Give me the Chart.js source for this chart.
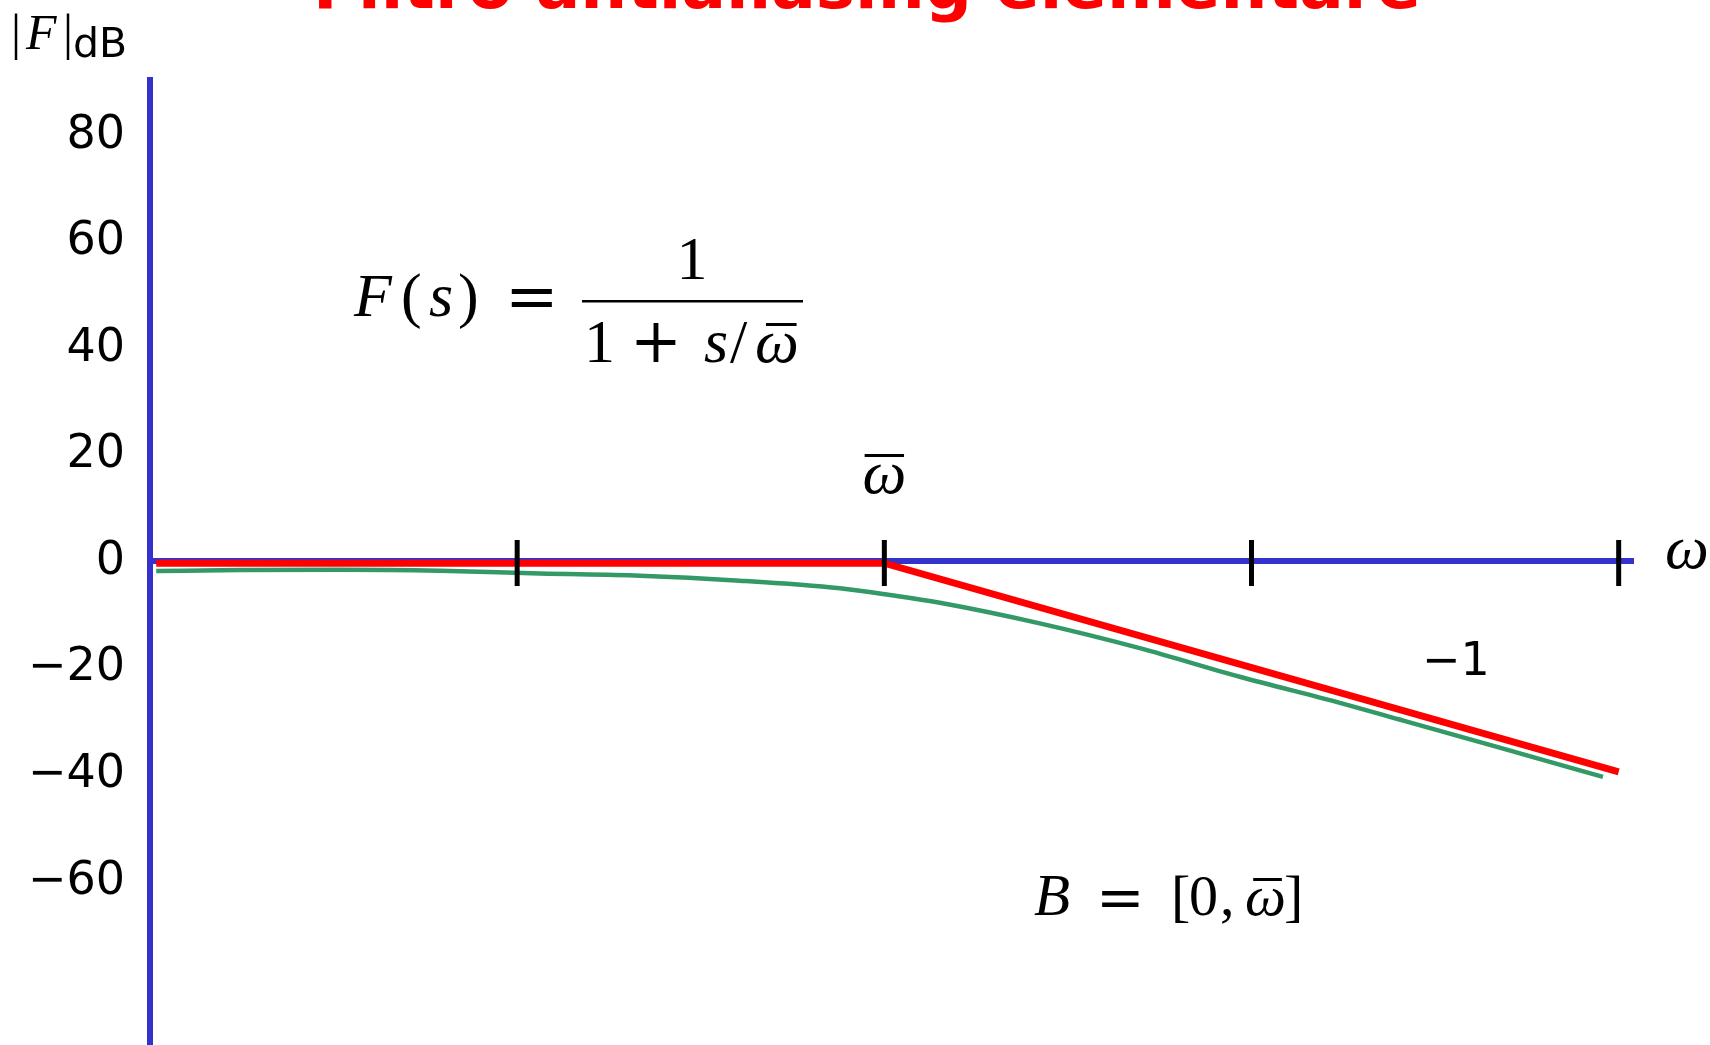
<!DOCTYPE html>
<html>
<head>
<meta charset="utf-8">
<title>Filtro antialiasing elementare</title>
<script src="https://cdn.jsdelivr.net/npm/chart.js@4.4.1/dist/chart.umd.min.js"></script>
<style>
  html, body { margin: 0; padding: 0; background: #ffffff; }
  canvas { display: block; }
</style>
</head>
<body>
<canvas id="bode" width="1710" height="1045"></canvas>
<script>
// frequency as w / w_bar on a log axis, magnitude in dB
const asymptoteOmega = [0.0104, 1, 100];
const asymptoteDb = [-0.4, -0.4, -39.6];

const exactOmega = [0.0104, 0.0176, 0.0329, 0.0617, 0.1153, 0.216, 0.404, 0.757, 1.035,
                    1.416, 2.65, 4.96, 9.29, 17.4, 25.3, 47.4, 90.6];
const exactDb = [-1.88, -1.69, -1.63, -1.82, -2.35, -2.76, -3.70, -5.13, -6.38,
                 -7.83, -11.70, -16.35, -21.73, -26.62, -29.76, -35.04, -40.52];

const dbTicks = [80, 60, 40, 20, 0, -20, -40, -60];
const decadeTicks = [0.1, 1, 10, 100];

const BLUE = '#3333cc';
const SERIF = '"Liberation Serif", serif';
const SANS = '"DejaVu Sans", sans-serif';

function toPoints(xs, ys) {
    return xs.map((v, i) => ({ x: v, y: ys[i] }));
}

function put(ctx, str, x, y, font, align) {
    ctx.font = font;
    ctx.textAlign = align || 'left';
    ctx.fillText(str, x, y);
}

// omega with a bar over it
function omegaBar(ctx, x, y, font, align, barFrom, barTo) {
    ctx.font = font;
    ctx.textAlign = align || 'left';
    const m = ctx.measureText('\u03c9');
    ctx.fillText('\u03c9', x, y);
    const left = ctx.textAlign === 'center' ? x - m.width / 2 : x;
    const top = y - m.actualBoundingBoxAscent;
    ctx.fillRect(left + m.width * barFrom, top - 10, m.width * (barTo - barFrom), 3);
}

// black decade marks crossing the frequency axis
const decadeMarks = {
    id: 'decadeMarks',
    afterDatasetsDraw(chart) {
        const { ctx, scales: { x, y } } = chart;
        const y0 = y.getPixelForValue(0);
        ctx.save();
        ctx.strokeStyle = '#000000';
        ctx.lineWidth = 5;
        decadeTicks.forEach(v => {
            const px = x.getPixelForValue(v);
            ctx.beginPath();
            ctx.moveTo(px, y0 - 21);
            ctx.lineTo(px, y0 + 25);
            ctx.stroke();
        });
        ctx.restore();
    }
};

const labels = {
    id: 'labels',
    afterDraw(chart) {
        const { ctx, scales: { x, y } } = chart;
        const y0 = y.getPixelForValue(0);
        ctx.save();
        ctx.textBaseline = 'alphabetic';

        // title
        ctx.fillStyle = '#ff0000';
        put(ctx, 'Filtro antialiasing elementare', 867, 8, `bold 66px ${SANS}`, 'center');

        ctx.fillStyle = '#000000';
        // axis name |F|dB
        put(ctx, '|', 11, 49, `50px ${SERIF}`);
        put(ctx, 'F', 26, 49, `italic 50px ${SERIF}`);
        put(ctx, '|', 63, 49, `50px ${SERIF}`);
        put(ctx, 'dB', 73, 57, `41px ${SANS}`);

        // F(s) = 1 / (1 + s/w)
        put(ctx, 'F', 354, 316, `italic 62px ${SERIF}`);
        put(ctx, '(', 401, 316, `62px ${SERIF}`);
        put(ctx, 's', 429, 316, `italic 62px ${SERIF}`);
        put(ctx, ')', 458, 316, `62px ${SERIF}`);
        put(ctx, '=', 505, 318, `64px "DejaVu Serif", serif`);
        ctx.fillRect(582, 300, 221, 2.5);
        put(ctx, '1', 692, 279, `62px ${SERIF}`, 'center');
        put(ctx, '1', 584, 362, `62px ${SERIF}`);
        put(ctx, '+', 630, 362, `62px "DejaVu Serif", serif`);
        put(ctx, 's', 704, 362, `italic 62px ${SERIF}`);
        put(ctx, '/', 730, 362, `62px ${SERIF}`);
        omegaBar(ctx, 755, 362, `italic 62px ${SERIF}`, 'left', 0.25, 0.95);

        // w_bar above its decade mark
        omegaBar(ctx, x.getPixelForValue(1), y0 - 68, `italic 62px ${SERIF}`, 'center', 0.05, 0.95);

        // frequency axis name
        put(ctx, '\u03c9', 1665, y0 + 7, `italic 62px ${SERIF}`);

        // slope of the asymptote
        put(ctx, '\u22121', 1422, 675, `46px ${SANS}`);

        // B = [0, w]
        put(ctx, 'B', 1034, 915, `italic 59px ${SERIF}`);
        put(ctx, '=', 1096, 917, `58px "DejaVu Serif", serif`);
        put(ctx, '[', 1171, 915, `58px ${SERIF}`);
        put(ctx, '0', 1189, 915, `58px ${SERIF}`);
        put(ctx, ',', 1220, 915, `58px ${SERIF}`);
        omegaBar(ctx, 1245, 915, `italic 58px ${SERIF}`, 'left', 0.2, 0.9);
        put(ctx, ']', 1284, 915, `58px ${SERIF}`);

        ctx.restore();
    }
};

new Chart(document.getElementById('bode').getContext('2d'), {
    type: 'line',
    data: {
        datasets: [{
            label: 'asintoti',
            data: toPoints(asymptoteOmega, asymptoteDb),
            borderColor: '#ff0000',
            borderWidth: 7,
            pointRadius: 0,
            fill: false,
            tension: 0
        }, {
            label: '|F(j\u03c9)|',
            data: toPoints(exactOmega, exactDb),
            borderColor: '#339966',
            borderWidth: 4.5,
            pointRadius: 0,
            fill: false,
            cubicInterpolationMode: 'monotone'
        }]
    },
    options: {
        responsive: false,
        animation: false,
        devicePixelRatio: 1,
        layout: { padding: { top: 80, right: 77, bottom: 0, left: 0 } },
        plugins: {
            legend: { display: false },
            tooltip: { enabled: false },
            title: { display: false }
        },
        scales: {
            x: {
                type: 'logarithmic',
                min: 0.01,
                max: 109.4,
                position: { y: 0 },
                grid: { display: false, drawTicks: false },
                border: { display: true, color: BLUE, width: 6 },
                ticks: { display: false },
                afterBuildTicks: scale => { scale.ticks = decadeTicks.map(v => ({ value: v })); },
                afterFit: scale => {
                    scale.height = 0;
                    scale.paddingLeft = 0;
                    scale.paddingRight = 0;
                }
            },
            y: {
                type: 'linear',
                position: 'left',
                min: -90.86,
                max: 90.3,
                grid: { display: false, drawTicks: false },
                border: { display: true, color: BLUE, width: 6 },
                ticks: {
                    autoSkip: false,
                    padding: 25,
                    labelOffset: 1,
                    color: '#000000',
                    font: { family: 'DejaVu Sans', size: 46 },
                    callback: v => String(v).replace('-', '\u2212')
                },
                afterBuildTicks: scale => { scale.ticks = dbTicks.map(v => ({ value: v })); },
                afterFit: scale => {
                    scale.width = 150;
                    scale.paddingTop = 0;
                    scale.paddingBottom = 0;
                }
            }
        }
    },
    plugins: [decadeMarks, labels]
});
</script>
</body>
</html>
